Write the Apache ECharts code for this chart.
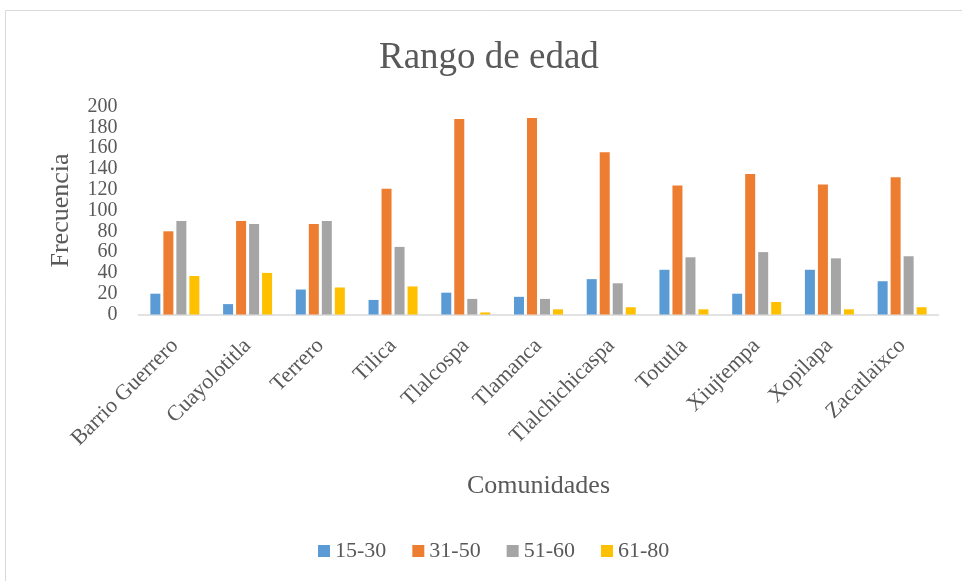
<!DOCTYPE html>
<html>
<head>
<meta charset="utf-8">
<style>
  html, body { margin: 0; padding: 0; background: #ffffff; }
  #chart { width: 962px; height: 581px; }
</style>
<script src="https://cdn.jsdelivr.net/npm/echarts@6/dist/echarts.min.js"></script>
</head>
<body>
<div id="chart"></div>
<script>
// Communities surveyed
const comunidades = ['Barrio Guerrero', 'Cuayolotitla', 'Terrero', 'Tilica', 'Tlalcospa',
  'Tlamanca', 'Tlalchichicaspa', 'Totutla', 'Xiujtempa', 'Xopilapa', 'Zacatlaixco'];

// Frequency per age range
const rango15a30 = [20, 10, 24, 14, 21, 17, 34, 43, 20, 43, 32];
const rango31a50 = [80, 90, 87, 121, 188, 189, 156, 124, 135, 125, 132];
const rango51a60 = [90, 87, 90, 65, 15, 15, 30, 55, 60, 54, 56];
const rango61a80 = [37, 40, 26, 27, 2, 5, 7, 5, 12, 5, 7];

const yTicks = [0, 20, 40, 60, 80, 100, 120, 140, 160, 180, 200];

const serif = '"Liberation Serif", "DejaVu Serif", serif';
const textColor = '#595959';

const chart = echarts.init(document.getElementById('chart'));

const mkSeries = (name, data, color) => ({
  name, type: 'bar', data,
  barWidth: 10,
  barGap: '30%',
  barCategoryGap: '31%',
  itemStyle: { color },
  emphasis: { disabled: true }
});

chart.setOption({
  animation: false,
  backgroundColor: '#ffffff',
  title: {
    text: 'Rango de edad',
    left: 374,
    top: 35,
    textStyle: { fontFamily: serif, fontSize: 37, fontWeight: 'normal', color: textColor }
  },
  legend: {
    bottom: 14,
    left: 313,
    itemWidth: 12,
    itemHeight: 12,
    itemGap: 26,
    icon: 'rect',
    textStyle: { fontFamily: serif, fontSize: 22, color: textColor },
    data: ['15-30', '31-50', '51-60', '61-80']
  },
  grid: { left: 138.5, right: 23.5, top: 106.5, height: 208, containLabel: false },
  xAxis: {
    type: 'category',
    data: comunidades,
    name: 'Comunidades',
    nameLocation: 'middle',
    nameGap: 159,
    nameTextStyle: { fontFamily: serif, fontSize: 26, color: textColor },
    axisLine: { lineStyle: { color: '#d9d9d9', width: 1.5 } },
    axisTick: { show: false },
    axisLabel: {
      interval: 0,
      rotate: 45,
      margin: 28,
      fontFamily: serif,
      fontSize: 22,
      color: textColor
    }
  },
  yAxis: {
    type: 'value',
    min: 0,
    max: 200,
    interval: 20,
    name: 'Frecuencia',
    nameLocation: 'middle',
    nameGap: 64,
    nameRotate: 90,
    nameTextStyle: { fontFamily: serif, fontSize: 26, color: textColor },
    splitLine: { show: false },
    axisLine: { show: false },
    axisTick: { show: false },
    axisLabel: {
      margin: 21,
      fontFamily: serif,
      fontSize: 20,
      lineHeight: 12,
      color: textColor,
      formatter: v => (yTicks.includes(v) ? String(v) : '')
    }
  },
  graphic: [{
    type: 'rect',
    shape: { x: 5.5, y: 10.5, width: 1000, height: 1000 },
    style: { fill: 'none', stroke: '#d9d9d9', lineWidth: 1 },
    silent: true
  }],
  series: [
    mkSeries('15-30', rango15a30, '#5b9bd5'),
    mkSeries('31-50', rango31a50, '#ed7d31'),
    mkSeries('51-60', rango51a60, '#a5a5a5'),
    mkSeries('61-80', rango61a80, '#ffc000')
  ]
});
</script>
</body>
</html>
